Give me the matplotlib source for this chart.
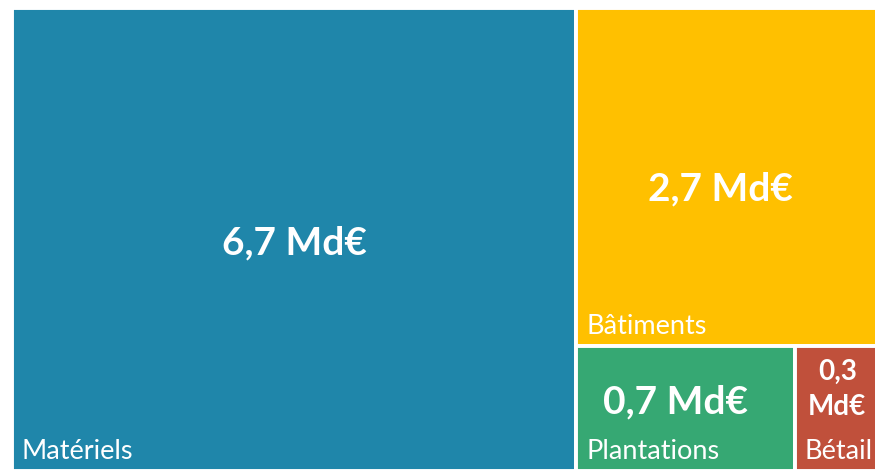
import matplotlib
matplotlib.use("Agg")
import matplotlib.pyplot as plt
from matplotlib.patches import Rectangle

categories = ["Matériels", "Bâtiments", "Plantations", "Bétail"]
values = [6.7, 2.7, 0.7, 0.3]
value_labels = ["6,7 Md€", "2,7 Md€", "0,7 Md€", "0,3\nMd€"]
colors = ["#1F86AA", "#FFC000", "#36A873", "#C0503B"]

plt.rcParams['font.family'] = ['Lato', 'DejaVu Sans']

fig = plt.figure(figsize=(8.75, 4.71), dpi=100)
ax = fig.add_axes([12/875, 0, 876/875, 463/471])
ax.set_xlim(0, 1)
ax.set_ylim(1, 0)
ax.axis('off')

total = sum(values)
f1 = values[0] / total
rest = total - values[0]
g = values[1] / rest
h = values[2] / (values[2] + values[3])

rects = [
    (0, 0, f1, 1),
    (f1, 0, 1 - f1, g),
    (f1, g, (1 - f1) * h, 1 - g),
    (f1 + (1 - f1) * h, g, (1 - f1) * (1 - h), 1 - g),
]

val_offsets = [(0, -3), (-12, -12), (-10, 6), (-4, 19)]
val_sizes = [28, 28, 28, 20]
val_spacing = [1.2, 1.2, 1.2, 1.45]

for (x, y, w, hh), c, cat, vl, off, vs, ls in zip(rects, colors, categories, value_labels,
                                                  val_offsets, val_sizes, val_spacing):
    ax.add_patch(Rectangle((x, y), w, hh, facecolor=c, edgecolor='white', linewidth=2.8))
    ax.annotate(vl, (x + w / 2, y + hh / 2), xytext=off, textcoords='offset pixels',
                ha='center', va='center', color='white', fontsize=vs, fontweight='bold',
                linespacing=ls)
    ax.annotate(cat, (x, y + hh), xytext=(10, 7), textcoords='offset pixels',
                ha='left', va='bottom', color='white', fontsize=19.5)

fig.savefig("out.png", dpi=100)
